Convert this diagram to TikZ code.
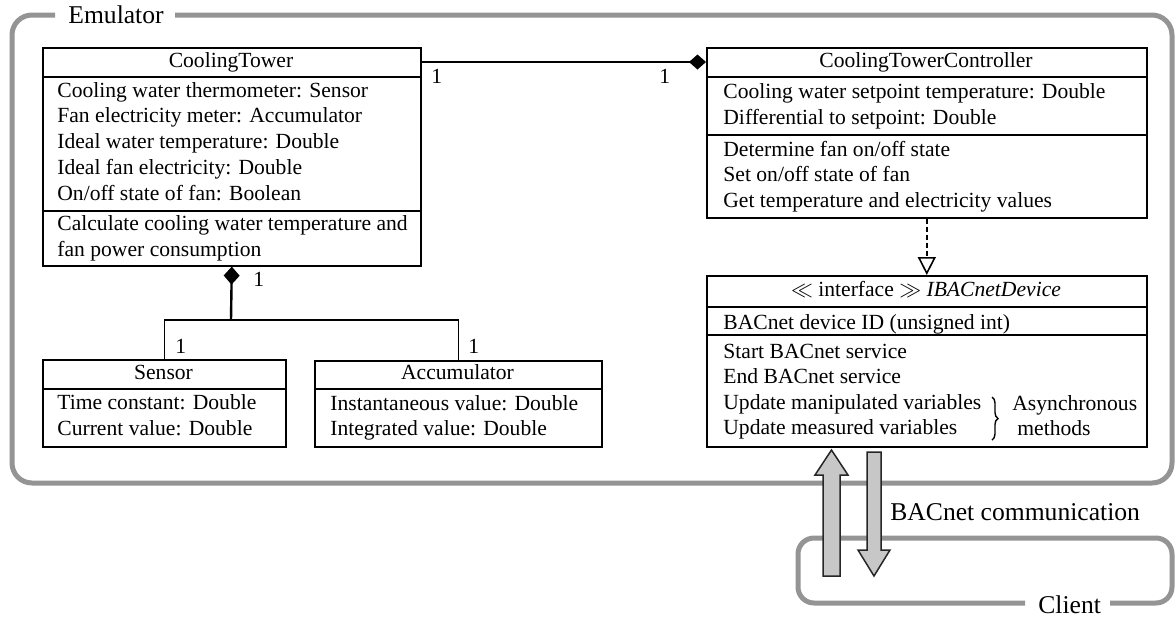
\documentclass[tikz,border=0pt]{standalone}
\usepackage{fontspec}
\setmainfont{Liberation Serif}
\usetikzlibrary{arrows.meta, calc, decorations.pathreplacing}

\tikzset{
  clsbox/.style={draw, line width=0.8pt, anchor=north west, inner sep=0pt},
  sepline/.style={line width=0.8pt},
  txt/.style={anchor=base west, inner sep=0pt, font=\fontsize{10.8}{13}\selectfont},
  hdr/.style={anchor=base, inner sep=0pt, font=\fontsize{10.8}{13}\selectfont},
  biglabel/.style={anchor=base west, inner sep=0pt, font=\fontsize{12.8}{15}\selectfont},
  frame/.style={draw=black!42, line width=2.5pt},
  blockarrow/.style={draw=black!85, fill=black!22, line width=0.75pt, line join=miter},
}

\begin{document}
\begin{tikzpicture}[x=0.5pt, y=-0.5pt]
    \useasboundingbox (0,0) rectangle (1175,618);

    % Emulator frame
    \draw[frame, rounded corners=10pt] (55,15) -- (12,15) -- (12,483) -- (1172,483) -- (1172,15) -- (175,15);
    \node[biglabel] (emulabel) at (68,23) {Emulator};

    % Client frame
    \draw[frame, rounded corners=8pt] (1025,603) -- (798,603) -- (798,538) -- (1172,538) -- (1172,603) -- (1110,603);
    \node[biglabel] (clientlabel) at (1038,613) {Client};

    % CoolingTower
    \node[clsbox, minimum width=189pt, minimum height=109pt] (tower) at (42,47) {};
    \draw[sepline] (42,77) -- (420,77);
    \draw[sepline] (42,211) -- (420,211);
    \node[hdr] (towername) at (231,67) {CoolingTower};
    \foreach \s [count=\i from 0] in {Cooling water thermometer: Sensor, Fan electricity meter: Accumulator,
        Ideal water temperature: Double, Ideal fan electricity: Double, On/off state of fan: Boolean}
        \node[txt] (towerattr\i) at (57,{97+25.8*\i}) {\s};
    \node[txt] (towerop0) at (57,230) {Calculate cooling water temperature and};
    \node[txt] (towerop1) at (57,256) {fan power consumption};

    % CoolingTowerController
    \node[clsbox, minimum width=220pt, minimum height=85pt] (ctrl) at (706,47) {};
    \draw[sepline] (706,77) -- (1146,77);
    \draw[sepline] (706,135) -- (1146,135);
    \node[hdr] (ctrlname) at (926,67) {CoolingTowerController};
    \node[txt] (ctrlattr0) at (723,98) {Cooling water setpoint temperature: Double};
    \node[txt] (ctrlattr1) at (723,124) {Differential to setpoint: Double};
    \foreach \s [count=\i from 0] in {Determine fan on/off state, Set on/off state of fan,
        Get temperature and electricity values}
        \node[txt] (ctrlop\i) at (723,{156+25.5*\i}) {\s};

    % IBACnetDevice
    \node[clsbox, minimum width=220pt, minimum height=85.5pt] (iface) at (706,275) {};
    \draw[sepline] (706,307) -- (1146,307);
    \draw[sepline] (706,335) -- (1146,335);
    \node[hdr] (ifacename) at (926,296) {$\ll$ interface $\gg$ \textit{IBACnetDevice}};
    \node[txt] (ifaceattr) at (723,329) {BACnet device ID (unsigned int)};
    \foreach \s [count=\i from 0] in {Start BACnet service, End BACnet service,
        Update manipulated variables, Update measured variables}
        \node[txt] (ifaceop\i) at (723,{358+25.6*\i}) {\s};
    \draw[line width=0.7pt, decorate, decoration={brace, amplitude=3pt}] (992,397) -- (992,440);
    \node[txt] (async) at (1012,410) {Asynchronous};
    \node[txt] (asyncb) at (1017,435) {methods};

    % Sensor
    \node[clsbox, minimum width=121.5pt, minimum height=43.5pt] (sensor) at (42,359) {};
    \draw[sepline] (42,389) -- (285,389);
    \node[hdr] (sensorname) at (163.5,379) {Sensor};
    \node[txt] (sensorattr0) at (57,409) {Time constant: Double};
    \node[txt] (sensorattr1) at (57,435) {Current value: Double};

    % Accumulator
    \node[clsbox, minimum width=143.5pt, minimum height=43pt] (acc) at (314,360) {};
    \draw[sepline] (314,389) -- (601,389);
    \node[hdr] (accname) at (457.5,379) {Accumulator};
    \node[txt] (accattr0) at (330,410) {Instantaneous value: Double};
    \node[txt] (accattr1) at (330,435) {Integrated value: Double};

    % associations
    \draw[line width=0.8pt, -{Diamond[length=8.5pt, width=7.5pt]}] ($(tower.north east)+(0,15)$) -- ($(ctrl.north west)+(0,15)$);
    \node[txt] (m1) at (431,83) {1};
    \node[txt] (m2) at (659,83) {1};

    \coordinate (fork) at (231,320);
    \draw[line width=1.2pt, {Diamond[length=9pt, width=8pt]}-] (tower.south) -- (fork);
    \draw[line width=0.8pt] (sensor.north) |- (fork) -| (acc.north);
    \node[txt] (m3) at (253,286) {1};
    \node[txt] (m4) at (175,353) {1};
    \node[txt] (m5) at (468,353) {1};

    \draw[line width=0.8pt, dash pattern=on 2.5pt off 1.5pt, -{Triangle[open, length=9pt, width=9pt]}] (ctrl.south) -- (iface.north);

    % BACnet traffic
    \draw[blockarrow] (823,576) -- (823,475) -- (815,475) -- (831.5,450) -- (848,475) -- (840,475) -- (840,576) -- cycle;
    \draw[blockarrow] (867,452) -- (881,452) -- (881,550) -- (890,550) -- (874,576) -- (858,550) -- (867,550) -- cycle;
    \node[biglabel] (comm) at (890,520) {BACnet communication};
\end{tikzpicture}
\end{document}
